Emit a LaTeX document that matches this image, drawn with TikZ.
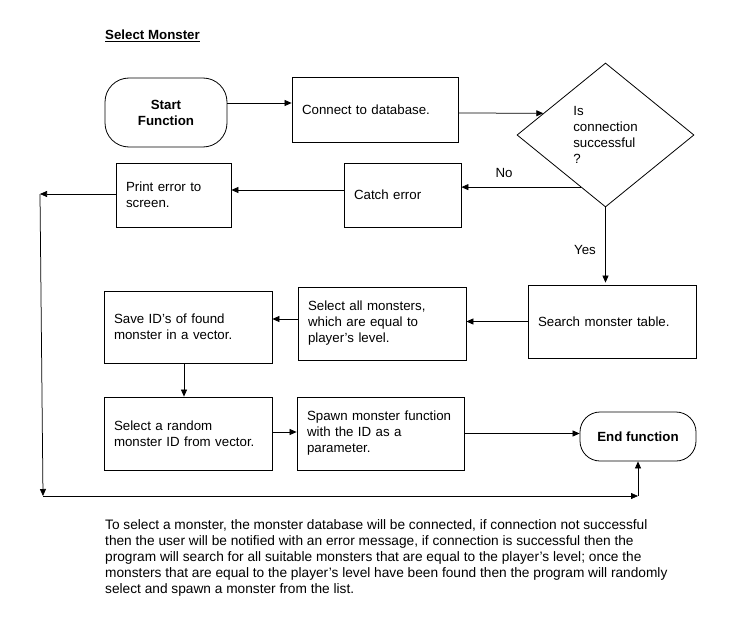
\documentclass[tikz,border=0pt]{standalone}
\usepackage{fontspec}
\setmainfont{Liberation Sans}
\usetikzlibrary{arrows.meta,shapes.geometric,calc}
\newcommand\fsz{\fontsize{13.3}{16}\selectfont}
\newcommand\psz{\fontsize{13.7}{16}\selectfont}
\begin{document}
\begin{tikzpicture}[x=1pt,y=-1pt,
  every node/.style={font=\fsz},
  box/.style={draw, rectangle, line width=0.8pt, align=left, inner xsep=10pt, inner ysep=0pt},
  term/.style={draw, rectangle, rounded corners=20pt, line width=0.8pt, align=center, font=\fsz\bfseries, inner sep=0pt},
  arr/.style={line width=0.75pt, -{Triangle[length=7pt,width=6pt]}},
  lbl/.style={inner sep=0pt}]
\fill[white] (0,0) rectangle (747,634);
\useasboundingbox (0,0) rectangle (747,634);

\node[lbl, anchor=west, font=\fsz\bfseries] (title) at (105,36) {\underline{Select Monster}};

\node[term, rounded corners=24pt, minimum width=122pt, minimum height=69pt] (start) at (166,112.5) {Start\\Function};
\node[box, text width=146pt, minimum height=65pt] (connect) at (375,109.5) {Connect to database.};
\node[draw, diamond, line width=0.8pt, minimum width=177pt, minimum height=144pt, inner sep=0pt, align=left] (decision) at (605.5,135) {Is\\connection\\successful\\?};
\node[box, text width=97pt, minimum height=64pt] (catch) at (402.5,195) {Catch error};
\node[box, text width=95pt, minimum height=64pt] (print) at (173.5,195) {Print error to\\screen.};
\node[box, text width=148pt, minimum height=73pt] (search) at (612,321.5) {Search monster table.};
\node[box, text width=148pt, minimum height=73pt] (select) at (382,323.5) {Select all monsters,\\which are equal to\\player's level.};
\node[box, text width=148pt, minimum height=72pt] (save) at (188,327) {Save ID's of found\\monster in a vector.};
\node[box, text width=148pt, minimum height=73pt] (random) at (188,433.5) {Select a random\\monster ID from vector.};
\node[box, text width=147pt, minimum height=73pt] (spawn) at (380.5,433.5) {Spawn monster function\\with the ID as a\\parameter.};
\node[term, minimum width=116pt, minimum height=49pt] (end) at (638,436.5) {End function};

\node[lbl] (no) at (504,173) {No};
\node[lbl] (yes) at (585,250) {Yes};

\coordinate (c1) at (40,194);
\coordinate (c2) at (43,496);
\coordinate (c3) at (638,496);

\draw[arr] ([yshift=9.5pt]start.east) -- ([yshift=9.5pt]start.east -| connect.west);
\draw[arr] ([yshift=-3.5pt]connect.east) -- ($(decision.west)!0.3!(decision.north)$);
\coordinate (nostart) at ($(decision.west)!0.72!(decision.south)$);
\draw[arr] (nostart) -- (nostart -| catch.east);
\draw[arr] ([yshift=5pt]catch.west) -- ([yshift=5pt]catch.west -| print.east);
\draw[arr] ([yshift=1pt]print.west) -- (c1);
\draw[arr] (c1) -- (c2);
\draw[arr] (c2) -- (c3);
\draw[arr] (c3) -- (end.south);
\draw[arr] (decision.south) -- ([yshift=2pt]decision.south |- search.north);
\draw[arr] (search.west) -- (search.west -| select.east);
\draw[arr] ([yshift=4.5pt]select.west) -- ([yshift=4.5pt]select.west -| save.east);
\draw[arr] ([xshift=-4pt]save.south) -- ([xshift=-4pt]save.south |- random.north);
\draw[arr] ([yshift=1.5pt]random.east) -- ([yshift=1.5pt]random.east -| spawn.west);
\draw[arr] (spawn.east) -- (spawn.east -| end.west);

\node[lbl, anchor=north west, align=left, font=\psz] (para) at (105,519) {To select a monster, the monster database will be connected, if connection not successful\\then the user will be notified with an error message, if connection is successful then the\\program will search for all suitable monsters that are equal to the player's level; once the\\monsters that are equal to the player's level have been found then the program will randomly\\select and spawn a monster from the list.};
\end{tikzpicture}
\end{document}
